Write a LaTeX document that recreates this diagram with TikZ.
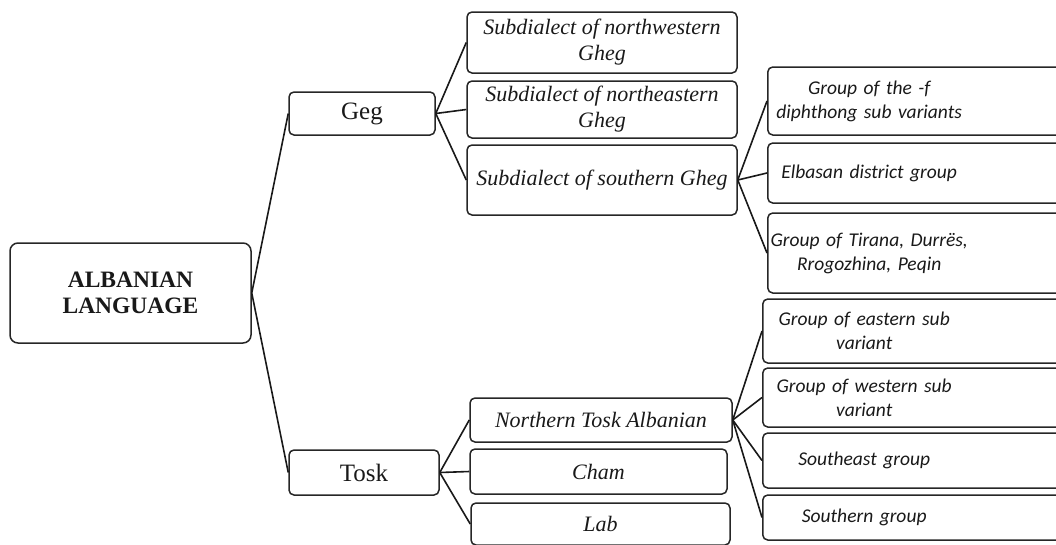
\documentclass[tikz,border=0pt]{standalone}
\usepackage{fontspec}
\setmainfont{Liberation Serif}
\newfontfamily\carlito{Carlito}
\usetikzlibrary{positioning}

\begin{document}
\begin{tikzpicture}[x=1pt, y=-1pt,
  box/.style={draw=black!85, line width=1.5pt, rounded corners=5pt, inner sep=0pt, text=black!90},
  mainbox/.style={box, align=center, font=\fontsize{23.5}{26}\selectfont\bfseries},
  dialbox/.style={box, font=\fontsize{25}{28}\selectfont},
  subbox/.style={box, minimum width=270pt, align=center, font=\fontsize{22}{26}\selectfont\itshape},
  grpbox/.style={box, minimum width=300pt, anchor=west},
  grptxt/.style={text width=204pt, align=center, inner sep=0pt, text=black!90, font=\carlito\fontsize{19.5}{24}\selectfont\itshape},
  link/.style={line width=1.6pt, black!90}]
\useasboundingbox (0,0) rectangle (1056,544);
\clip (0,0) rectangle (1056,544);

\node[mainbox, minimum width=241pt, minimum height=100pt, rounded corners=8pt] (lang) at (130.5,293) {ALBANIAN\\LANGUAGE};

\node[dialbox, minimum width=146pt, minimum height=43pt] (geg) at (362,113.5) {Geg};
\node[dialbox, minimum width=150pt, minimum height=45pt] (tosk) at (364,472.5) {Tosk};

\node[subbox, minimum height=61pt] (nwg) at (602,42.5) {Subdialect of northwestern\\Gheg};
\node[subbox, minimum height=57pt] (neg) at (602,109.5) {Subdialect of northeastern\\Gheg};
\node[subbox, minimum height=70pt] (sog) at (602,180) {Subdialect of southern Gheg};

\node[subbox, minimum width=262pt, minimum height=44pt] (ntosk) at (601,420) {Northern Tosk Albanian};
\node[subbox, minimum width=257pt, minimum height=45pt] (cham) at (598.5,471.5) {Cham};
\node[subbox, minimum width=259pt, minimum height=42pt] (lab) at (600.5,524) {Lab};

\node[grpbox, minimum height=68pt] (fdiph) at (767,101) {};
\node[grptxt, right=0pt of fdiph.west] {Group of the -f\\diphthong sub variants};
\node[grpbox, minimum height=60pt] (elb) at (767,173) {};
\node[grptxt, right=0pt of elb.west] {Elbasan district group};
\node[grpbox, minimum height=80pt] (tir) at (767,253) {};
\node[grptxt, right=0pt of tir.west] {Group of Tirana, Durrës,\\Rrogozhina, Peqin};

\node[grpbox, minimum height=64pt] (east) at (762,331) {};
\node[grptxt, right=0pt of east.west] {Group of eastern sub\\variant};
\node[grpbox, minimum height=59pt] (west) at (762,397.5) {};
\node[grptxt, right=0pt of west.west] {Group of western sub\\variant};
\node[grpbox, minimum height=55pt] (seast) at (762,460.5) {};
\node[grptxt, right=0pt of seast.west] {Southeast group};
\node[grpbox, minimum height=45pt] (south) at (762,517.5) {};
\node[grptxt, right=0pt of south.west] {Southern group};

\draw[link] (lang.east) -- (geg.west);
\draw[link] (lang.east) -- (tosk.west);
\draw[link] (geg.east) -- (nwg.west);
\draw[link] (geg.east) -- (neg.west);
\draw[link] (geg.east) -- (sog.west);
\draw[link] (sog.east) -- (fdiph.west);
\draw[link] (sog.east) -- (elb.west);
\draw[link] (sog.east) -- (tir.west);
\draw[link] (tosk.east) -- (ntosk.west);
\draw[link] (tosk.east) -- (cham.west);
\draw[link] (tosk.east) -- (lab.west);
\draw[link] (ntosk.east) -- (east.west);
\draw[link] (ntosk.east) -- (west.west);
\draw[link] (ntosk.east) -- (seast.west);
\draw[link] (ntosk.east) -- (south.west);
\end{tikzpicture}
\end{document}
